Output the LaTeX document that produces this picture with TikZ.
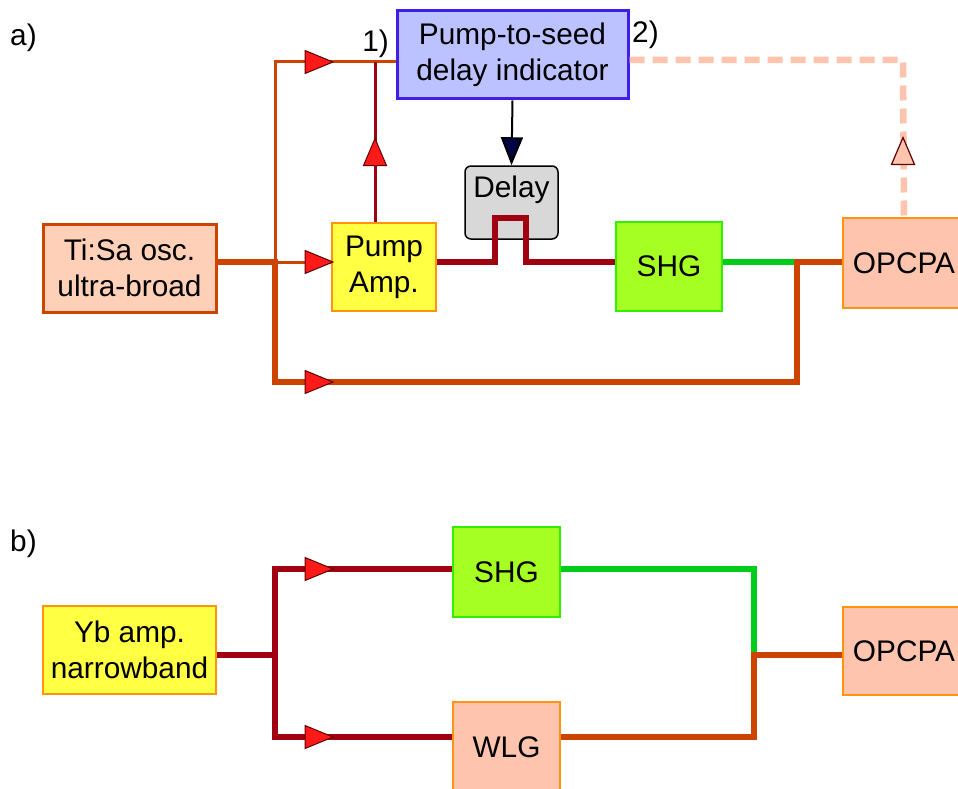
\documentclass[tikz,border=0pt]{standalone}
\usepackage{fontspec}
\setmainfont{Liberation Sans}
\usetikzlibrary{arrows.meta}
\definecolor{tisafill}{HTML}{FFD0B8}
\definecolor{orline}{HTML}{CC4400}
\definecolor{drline}{HTML}{A00010}
\definecolor{arrred}{HTML}{FF1A1A}
\definecolor{arrdark}{HTML}{600000}
\definecolor{grline}{HTML}{00CC1A}
\definecolor{shgfill}{HTML}{A6FF22}
\definecolor{shgdraw}{HTML}{33EE00}
\definecolor{opfill}{HTML}{FFC4AE}
\definecolor{opdraw}{HTML}{FF9410}
\definecolor{ptsfill}{HTML}{BBC2FF}
\definecolor{ptsdraw}{HTML}{3F1FE8}
\definecolor{ybfill}{HTML}{FFFF44}
\definecolor{delfill}{HTML}{D8D8D8}
\definecolor{navyarr}{HTML}{000044}
\newcommand\fsz{\fontsize{29.8}{36}\selectfont}
\begin{document}
\begin{tikzpicture}[x=1pt,y=-1pt,
  box/.style={draw, rectangle, inner sep=0pt, align=center, font=\fsz},
  orthick/.style={draw=orline, line width=6.5pt, line join=miter},
  orthin/.style={draw=orline, line width=3pt, line join=miter},
  drthick/.style={draw=drline, line width=6.5pt, line join=miter},
  drthin/.style={draw=drline, line width=3pt},
  grn/.style={draw=grline, line width=6.5pt, line join=miter},
  dashln/.style={draw=opfill, line width=6.5pt, dash pattern=on 15pt off 8pt},
  rtri/.pic={\filldraw[fill=arrred, draw=arrdark, line width=1pt] (-14,-11.5) -- (14,0) -- (-14,11.5) -- cycle;},
  utri/.pic={\filldraw[fill=arrred, draw=arrdark, line width=1pt] (-11.5,13.5) -- (0,-13.5) -- (11.5,13.5) -- cycle;},
  otri/.pic={\filldraw[fill=opfill, draw=arrdark, line width=1.2pt] (-11.5,13.5) -- (0,-13.5) -- (11.5,13.5) -- cycle;},
  lbl/.style={font=\fsz, inner sep=0pt}
]
\useasboundingbox (0,0) rectangle (958,789);
% ---------- a) nodes
\node[box, fill=tisafill, draw=orline, line width=3pt, minimum width=173pt, minimum height=88pt] (tisa) at (129.5,268) {Ti:Sa osc.\\ultra-broad};
\node[box, fill=ybfill, draw=opdraw, line width=2.5pt, minimum width=104pt, minimum height=88pt] (pamp) at (384,267) {Pump\\Amp.};
\node[box, fill=ptsfill, draw=ptsdraw, line width=3pt, minimum width=231pt, minimum height=88pt] (pts) at (512.5,55) {Pump-to-seed\\delay indicator};
\node[box, fill=shgfill, draw=shgdraw, line width=2.5pt, minimum width=106pt, minimum height=89pt] (shga) at (669,266.5) {SHG};
\node[box, fill=opfill, draw=opdraw, line width=2.5pt, minimum width=122pt, minimum height=90pt] (opa) at (904,263) {OPCPA};
\node[box, fill=delfill, draw=black, line width=1.5pt, rounded corners=6pt, minimum width=93pt, text height=31pt, text depth=42pt] (delay) at (511.5,202.5) {Delay};
% labels
\node[lbl, anchor=base west] (la) at (10,46) {a)};
\node[lbl, anchor=base east] (l1) at (389,52) {1)};
\node[lbl, anchor=base west] (l2) at (632,43) {2)};
% ---------- a) connectors
\coordinate (j1) at (275,262);
\coordinate (top) at (275,62);
\coordinate (bot) at (275,382);
\coordinate (r1) at (797,382);
\coordinate (r2) at (797,262);
\coordinate (v) at (375,62);
\coordinate (dtop) at (903,60);
\draw[orthin] (j1) -- (top) -- (pts.west|-top);
\draw[orthin] (j1) -- (pamp.west|-j1);
\draw[drthin] (pamp.north-|v) -- (v);
\draw[drthick] (pamp.east|-j1) -- (495,262) -- (495,218) -- (526,218) -- (526,262) -- (shga.west|-j1);
\draw[grn] (shga.east|-j1) -- (r2);
\draw[orthick] (tisa.east|-j1) -- (j1) -- (bot) -- (r1) -- (r2) -- (opa.west|-r2);
\draw[dashln] (pts.east|-dtop) -- (dtop) -- (opa.north);
\draw[line width=2pt, -{Triangle[length=28pt,width=22pt,fill=navyarr]}] (pts.south) -- (delay.north);
\pic at (319,62) {rtri};
\pic at (319,262) {rtri};
\pic at (319,382) {rtri};
\pic at (375,152) {utri};
\pic at (903,151) {otri};
% ---------- b) nodes
\node[lbl, anchor=base west] (lb) at (10,551) {b)};
\node[box, fill=ybfill, draw=opdraw, line width=2.5pt, minimum width=173pt, minimum height=88pt] (yb) at (129.5,650) {Yb amp.\\narrowband};
\node[box, fill=shgfill, draw=shgdraw, line width=2.5pt, minimum width=107pt, minimum height=90pt] (shgb) at (506.5,572) {SHG};
\node[box, fill=opfill, draw=opdraw, line width=2.5pt, minimum width=107pt, minimum height=90pt] (wlg) at (506.5,747) {WLG};
\node[box, fill=opfill, draw=opdraw, line width=2.5pt, minimum width=122pt, minimum height=88pt] (opb) at (904,651) {OPCPA};
% ---------- b) connectors
\coordinate (bj) at (275,655);
\coordinate (bt) at (275,569);
\coordinate (bb) at (275,737);
\coordinate (bg) at (754,569);
\coordinate (bm) at (754,655);
\coordinate (bo) at (754,737);
\draw[drthick] (yb.east|-bj) -- (bj);
\draw[drthick] (shgb.west|-bt) -- (bt) -- (bb) -- (wlg.west|-bb);
\draw[grn] (shgb.east|-bg) -- (bg) -- (bm);
\draw[orthick] (wlg.east|-bo) -- (bo) -- (bm) -- (opb.west|-bm);
\pic at (319,569) {rtri};
\pic at (319,737) {rtri};
\end{tikzpicture}
\end{document}
